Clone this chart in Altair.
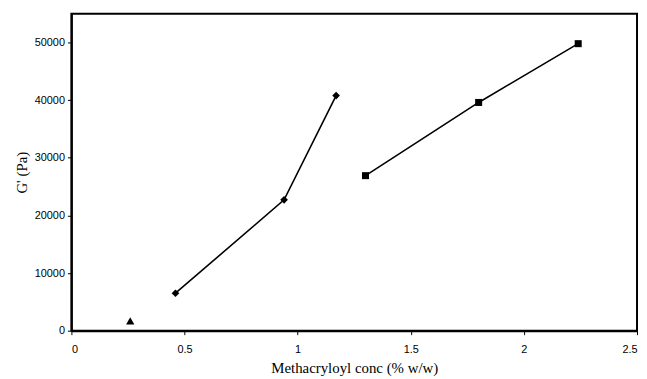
import altair as alt
import pandas as pd

tri_x = [0.26]
tri_y = [1700]
dia_x = [0.46, 0.94, 1.17]
dia_y = [6500, 22700, 40800]
sq_x = [1.30, 1.80, 2.24]
sq_y = [26900, 39600, 49800]

rows = []
for x, y in zip(tri_x, tri_y):
    rows.append({"x": x, "y": y, "s": "tri"})
for x, y in zip(dia_x, dia_y):
    rows.append({"x": x, "y": y, "s": "dia"})
for x, y in zip(sq_x, sq_y):
    rows.append({"x": x, "y": y, "s": "sq"})
df = pd.DataFrame(rows)

xs = alt.Scale(domain=[0, 2.5], nice=False, zero=False)
ys = alt.Scale(domain=[0, 55000], nice=False)

xax = alt.Axis(values=[0, 0.5, 1, 1.5, 2, 2.5], labelExpr="datum.value == 0 ? '0' : format(datum.value, '~g')",
               title="Methacryloyl conc (% w/w)", grid=False, tickSize=4, tickColor="black",
               domainColor="black", domainWidth=2, labelFont="Liberation Sans", labelFontSize=11,
               labelColor="black", labelPadding=9, titleFont="Liberation Serif", titleFontSize=15,
               titleFontWeight="normal", titleColor="black", titlePadding=6)
yax = alt.Axis(values=[0, 10000, 20000, 30000, 40000, 50000], format="d",
               title="G' (Pa)", grid=False, tickSize=4, tickColor="black",
               domainColor="black", domainWidth=2, labelFont="Liberation Sans", labelFontSize=11,
               labelColor="black", labelPadding=3, titleFont="Liberation Serif", titleFontSize=15,
               titleFontWeight="normal", titleColor="black", titlePadding=5)

base = alt.Chart(df)
lines = base.transform_filter("datum.s != 'tri'").mark_line(color="black", strokeWidth=1.6).encode(
    x=alt.X("x:Q", scale=xs, axis=xax),
    y=alt.Y("y:Q", scale=ys, axis=yax),
    detail="s:N",
)
pts = base.mark_point(filled=True, color="black", opacity=1).encode(
    x=alt.X("x:Q", scale=xs),
    y=alt.Y("y:Q", scale=ys),
    shape=alt.Shape("s:N", scale=alt.Scale(domain=["tri", "dia", "sq"],
                                           range=["triangle-up", "diamond", "square"]), legend=None),
    size=alt.Size("s:N", scale=alt.Scale(domain=["tri", "dia", "sq"], range=[70, 50, 60]), legend=None),
)

chart = alt.layer(lines, pts).properties(
    width=571, height=320,
    background="white",
    autosize=alt.AutoSizeParams(type="none"),
    padding={"left": 64, "top": 4, "right": 2, "bottom": 45},
).configure_view(stroke="black", strokeWidth=2)

chart.save("out.html", embed_options={"renderer": "svg", "actions": False})
